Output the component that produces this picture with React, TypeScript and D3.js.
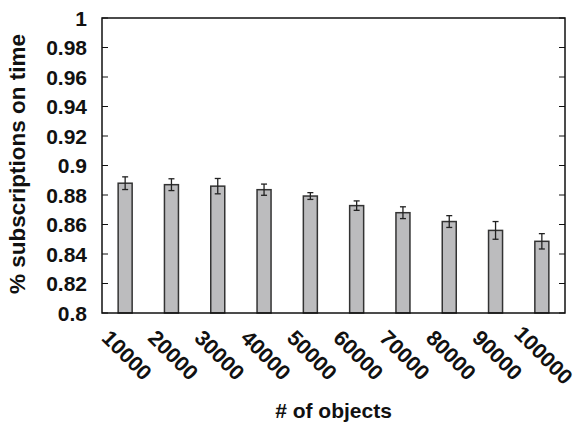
import React, { useEffect, useRef } from 'react';
import * as d3 from 'd3';

const objectCounts = ['10000', '20000', '30000', '40000', '50000', '60000', '70000', '80000', '90000', '100000'];
const onTimeRatio = [0.888, 0.887, 0.886, 0.8836, 0.8793, 0.8728, 0.868, 0.862, 0.856, 0.8486];
const errorMargin = [0.0043, 0.004, 0.0052, 0.0038, 0.0023, 0.0032, 0.004, 0.004, 0.006, 0.0052];
const yTicks = [0.8, 0.82, 0.84, 0.86, 0.88, 0.9, 0.92, 0.94, 0.96, 0.98, 1];

const width = 578;
const height = 424;

const SubscriptionChart: React.FC = () => {
  const svgRef = useRef<SVGSVGElement>(null);

  useEffect(() => {
    if (!svgRef.current) return;
    const svg = d3.select(svgRef.current);
    svg.selectAll('*').remove();

    const margin = { top: 18, right: 13, bottom: 111, left: 102 };
    const innerWidth = width - margin.left - margin.right;
    const innerHeight = height - margin.top - margin.bottom;
    const font = 'Liberation Sans, Arial, sans-serif';

    const g = svg.append('g').attr('transform', `translate(${margin.left},${margin.top})`);

    const x = d3.scaleBand().domain(objectCounts).range([0, innerWidth]).padding(0);
    const y = d3.scaleLinear().domain([0.8, 1]).range([innerHeight, 0]);
    const barW = 14;

    const data = objectCounts.map((c, i) => ({ c, v: onTimeRatio[i], e: errorMargin[i] }));

    // bars
    g.selectAll('.bar')
      .data(data)
      .enter().append('rect')
      .attr('x', d => (x(d.c) || 0) + x.bandwidth() / 2 - barW / 2)
      .attr('y', d => y(d.v))
      .attr('width', barW)
      .attr('height', d => innerHeight - y(d.v))
      .attr('fill', '#bcbcbe')
      .attr('stroke', '#333')
      .attr('stroke-width', 1.5);

    // error bars
    const eb = g.selectAll('.err').data(data).enter().append('g')
      .attr('transform', d => `translate(${(x(d.c) || 0) + x.bandwidth() / 2},0)`)
      .attr('stroke', '#222')
      .attr('stroke-width', 1.3);
    eb.append('line').attr('y1', d => y(d.v + d.e)).attr('y2', d => y(d.v - d.e));
    eb.append('line').attr('x1', -3).attr('x2', 3).attr('y1', d => y(d.v + d.e)).attr('y2', d => y(d.v + d.e));
    eb.append('line').attr('x1', -3).attr('x2', 3).attr('y1', d => y(d.v - d.e)).attr('y2', d => y(d.v - d.e));

    // frame
    g.append('rect')
      .attr('width', innerWidth)
      .attr('height', innerHeight)
      .attr('fill', 'none')
      .attr('stroke', '#111')
      .attr('stroke-width', 1.5);

    // y ticks (inside, both sides)
    g.selectAll('.ytl').data(yTicks).enter().append('line')
      .attr('x1', 0).attr('x2', 6)
      .attr('y1', d => y(d)).attr('y2', d => y(d))
      .attr('stroke', '#111');
    g.selectAll('.ytr').data(yTicks).enter().append('line')
      .attr('x1', innerWidth - 6).attr('x2', innerWidth)
      .attr('y1', d => y(d)).attr('y2', d => y(d))
      .attr('stroke', '#111');

    // y tick labels
    g.selectAll('.ylab').data(yTicks).enter().append('text')
      .attr('x', -15)
      .attr('y', d => y(d))
      .attr('dy', '0.36em')
      .attr('text-anchor', 'end')
      .style('font-family', font)
      .style('font-weight', 'bold')
      .style('font-size', '21px')
      .style('fill', '#111')
      .text(d => d3.format('')(d));

    // x tick labels, rotated
    g.selectAll('.xlab').data(objectCounts).enter().append('text')
      .attr('transform', d => `translate(${(x(d) || 0) + x.bandwidth() / 2 + 2},${innerHeight + 42}) rotate(45)`)
      .attr('text-anchor', 'middle')
      .attr('dy', '0.36em')
      .style('font-family', font)
      .style('font-weight', 'bold')
      .style('font-size', '21.5px')
      .style('fill', '#111')
      .text(d => d);

    // x title
    svg.append('text')
      .attr('x', margin.left + innerWidth / 2)
      .attr('y', 418)
      .attr('text-anchor', 'middle')
      .style('font-family', font)
      .style('font-weight', 'bold')
      .style('font-size', '21px')
      .style('fill', '#111')
      .text('# of objects');

    // y title
    svg.append('text')
      .attr('transform', `translate(25,164) rotate(-90)`)
      .attr('text-anchor', 'middle')
      .style('font-family', font)
      .style('font-weight', 'bold')
      .style('font-size', '22.5px')
      .style('fill', '#111')
      .text('% subscriptions on time');
  }, []);

  return <svg ref={svgRef} width={width} height={height} style={{ position: 'absolute', left: 0, top: 0, background: 'white' }} />;
};

export default function App() {
  return <SubscriptionChart />;
}
